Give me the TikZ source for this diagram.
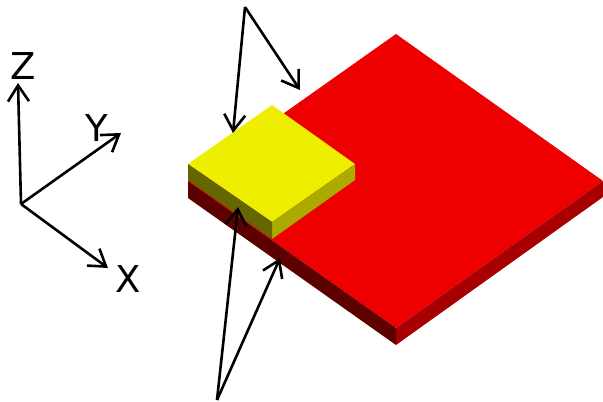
\documentclass[tikz,border=0pt]{standalone}
\usepackage{fontspec}
\setmainfont{DejaVu Sans}
\usepackage{xcolor}
\definecolor{pred}{RGB}{238,0,0}
\definecolor{dred}{RGB}{168,0,0}
\definecolor{ddred}{RGB}{92,0,0}
\definecolor{pyel}{RGB}{238,238,0}
\definecolor{dyel}{RGB}{170,170,0}
\definecolor{ddyel}{RGB}{102,102,0}
\usetikzlibrary{arrows.meta}

\begin{document}
\begin{tikzpicture}[
  x=1pt,y=-1pt,
  axlabel/.style={font=\fontsize{37}{37}\selectfont,inner sep=0pt},
  arrow/.style={-{Straight Barb[length=16pt,width=21pt,line width=2.6pt]},line width=2.6pt,black}
]
  \useasboundingbox (0,0) rectangle (603,402);

  % red plate
  \fill[pred] (396,34) -- (603,181) -- (396,328) -- (188,181) -- cycle;
  \fill[dred] (603,181) -- (603,197) -- (396,345) -- (396,328) -- cycle;
  \fill[ddred] (188,181) -- (396,328) -- (396,345) -- (188,198) -- cycle;

  % yellow plate
  \fill[pyel] (272,105) -- (355,164) -- (272,222) -- (188,164) -- cycle;
  \fill[dyel] (355,164) -- (355,180) -- (272,239) -- (272,222) -- cycle;
  \fill[ddyel] (188,164) -- (272,222) -- (272,239) -- (188,180) -- cycle;

  % axes
  \coordinate (o) at (21,204);
  \coordinate (zend) at (18,83);
  \coordinate (yend) at (121,133);
  \coordinate (xend) at (108,268);
  \draw[arrow] (o) -- (zend);
  \draw[arrow] (o) -- (yend);
  \draw[arrow] (o) -- (xend);
  \node[axlabel] (zlabel) at (23,66) {Z};
  \node[axlabel] (ylabel) at (97,128) {Y};
  \node[axlabel] (xlabel) at (128,279) {X};

  % pointers
  \coordinate (top) at (245,7);
  \coordinate (ta) at (233,133);
  \coordinate (tb) at (300,90);
  \coordinate (bot) at (217,400);
  \coordinate (ba) at (238,207);
  \coordinate (bb) at (280,258);
  \draw[arrow] (top) -- (ta);
  \draw[arrow] (top) -- (tb);
  \draw[arrow] (bot) -- (ba);
  \draw[arrow] (bot) -- (bb);
\end{tikzpicture}
\end{document}
